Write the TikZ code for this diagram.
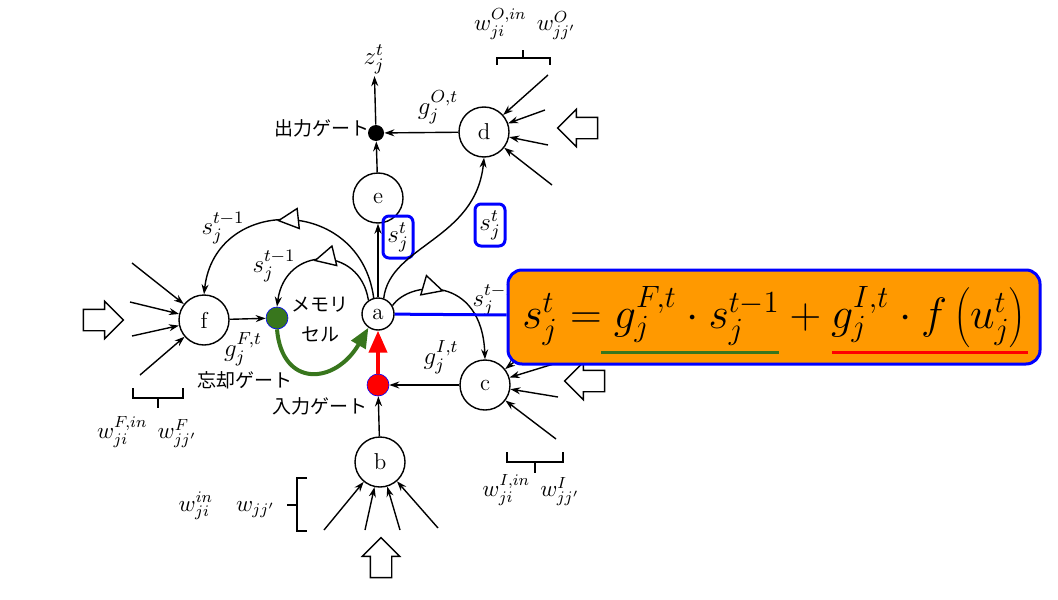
\RequirePackage{fix-cm}
\documentclass[tikz,border=0pt]{standalone}
\usepackage{fontspec}
\newfontfamily\jpfont{Noto Sans CJK JP}
\usepackage{tikz}
\usetikzlibrary{arrows.meta,positioning,shapes.arrows,decorations.markings}
\definecolor{gateGreen}{RGB}{56,118,29}
\definecolor{gateRed}{RGB}{255,0,0}
\definecolor{boxBlue}{RGB}{0,0,255}
\definecolor{eqOrange}{RGB}{255,153,0}
\tikzset{
  unit/.style={circle, draw, line width=0.7pt, fill=white, minimum size=25pt, inner sep=0pt, font=\fontsize{11.5}{13}\selectfont},
  cellunit/.style={unit, minimum size=16pt},
  gatedot/.style={circle, draw=boxBlue, line width=0.3pt, minimum size=11pt, inner sep=0pt},
  outdot/.style={circle, fill=black, minimum size=8pt, inner sep=0pt},
  jptext/.style={font=\jpfont\fontsize{9.5}{15}\selectfont, inner sep=1pt},
  lbl/.style={inner sep=1pt, font=\fontsize{12.5}{14}\selectfont},
  wlbl/.style={inner sep=1pt, font=\fontsize{11.5}{13}\selectfont},
  sbox/.style={draw=boxBlue, line width=1.5pt, rounded corners=3pt, inner sep=0.5pt, minimum width=15pt, minimum height=21pt, font=\fontsize{12.5}{14}\selectfont},
  eqbox/.style={draw=boxBlue, line width=1.5pt, fill=eqOrange, rounded corners=7pt, minimum width=266pt, minimum height=47pt, font=\fontsize{22}{26}\selectfont},
  bigarrow/.style={draw, line width=0.7pt, fill=white, single arrow, minimum height=20pt, single arrow head extend=4pt, inner xsep=0pt, inner ysep=5pt},
  flow/.style={-{Stealth[length=5pt,width=3.5pt]}, line width=0.7pt},
  loopflow/.style={flow, postaction={decorate}, decoration={markings, mark=at position #1 with {\arrow{Triangle[length=11pt,width=11pt,fill=white]}}}},
  greenflow/.style={-{Triangle[length=10pt,width=8pt]}, line width=2pt, draw=gateGreen},
  redflow/.style={-{Triangle[length=11pt,width=9pt]}, line width=2pt, draw=gateRed},
  brace/.style={line width=0.7pt}
}
\begin{document}
\begin{tikzpicture}[x=0.5pt, y=-0.5pt]
  \useasboundingbox (0,0) rectangle (1058,599);
  % units and gates
  \node[cellunit] (a) at (378,314) {a};
  \node[unit] (e) at (378,198) {e};
  \node[unit] (d) at (484,132) {d};
  \node[unit] (f) at (204,320) {f};
  \node[unit] (c) at (485,385) {c};
  \node[unit] (b) at (380,462) {b};
  \node[outdot] (og) at (376,133) {};
  \node[gatedot, fill=gateGreen] (fg) at (277,318) {};
  \node[gatedot, fill=gateRed] (ig) at (378,385) {};
  % labels
  \node[lbl] (zt) at (374,59) {$z_j^t$};
  \node[jptext] (outgate) at (322,128) {出力ゲート};
  \node[lbl] (go) at (438,107) {$g_j^{O,t}$};
  \node[lbl] (sprevF) at (223,228) {$s_j^{t-1}$};
  \node[lbl] (sprevC) at (274,266) {$s_j^{t-1}$};
  \node[lbl] (sprevI) at (494,300) {$s_j^{t-1}$};
  \node[jptext, align=center] (cell) at (320,320) {メモリ\\セル};
  \node[lbl] (gf) at (243,349) {$g_j^{F,t}$};
  \node[jptext] (forgate) at (245,380) {忘却ゲート};
  \node[lbl] (gi) at (441,357) {$g_j^{I,t}$};
  \node[jptext] (ingate) at (320,406) {入力ゲート};
  \node[sbox] (se) at (398,237) {$s_j^t$};
  \node[sbox] (sd) at (490,225) {$s_j^t$};
  \node[wlbl] (wF) at (147,432) {$w_{ji}^{F,in}\;\, w_{jj'}^{F}$};
  \node[wlbl] (wO) at (525,24) {$w_{ji}^{O,in}\;\, w_{jj'}^{O}$};
  \node[wlbl] (wI) at (531,490) {$w_{ji}^{I,in}\;\, w_{jj'}^{I}$};
  \node[wlbl] (wB) at (227,506) {$w_{ji}^{in}\quad w_{jj'}$};
  % big input arrows
  \node[bigarrow] (inF) at (98,320) {};
  \node[bigarrow, rotate=180] (inO) at (583,128) {};
  \node[bigarrow, rotate=180] (inI) at (590,381) {};
  \node[bigarrow, rotate=90] (inB) at (381,563) {};
  % connections
  \draw[flow] (og) -- (zt);
  \draw[flow] (d) -- (og);
  \draw[flow] (e) -- (og);
  \draw[flow] (a) -- (e);
  \draw[flow] (f) -- (fg);
  \draw[flow] (c) -- (ig);
  \draw[flow] (b) -- (ig);
  \draw[loopflow=0.55] (a.105) .. controls (360,195) and (215,195) .. (f.north);
  \draw[loopflow=0.55] (a.125) .. controls (360,245) and (285,245) .. (fg.north);
  \draw[flow] (a.70) .. controls (390,245) and (476,240) .. (d.south);
  \draw[loopflow=0.4] (a.30) .. controls (410,280) and (482,275) .. (c.north);
  \draw[greenflow] (fg.south) .. controls (282,388) and (335,385) .. (a.235);
  \draw[redflow] (ig) -- (a);
  % weighted inputs
  \draw[flow] (132,263) -- (f);
  \draw[flow] (130,302) -- (f);
  \draw[flow] (132,336) -- (f);
  \draw[flow] (140,375) -- (f);
  \draw[flow] (548,75) -- (d);
  \draw[flow] (545,110) -- (d);
  \draw[flow] (548,145) -- (d);
  \draw[flow] (552,185) -- (d);
  \draw[flow] (552,332) -- (c);
  \draw[flow] (560,362) -- (c);
  \draw[flow] (558,397) -- (c);
  \draw[flow] (556,439) -- (c);
  \draw[flow] (324,530) -- (b);
  \draw[flow] (365,530) -- (b);
  \draw[flow] (400,530) -- (b);
  \draw[flow] (438,528) -- (b);
  % braces
  \draw[brace] (133,388) -- (133,398) -- (183,398) -- (183,388) (158,398) -- (158,408);
  \draw[brace] (497,65) -- (497,58) -- (550,58) -- (550,65) (523,58) -- (523,50);
  \draw[brace] (507,452) -- (507,462) -- (563,462) -- (563,452) (535,462) -- (535,473);
  \draw[brace] (307,478) -- (297,478) -- (297,531) -- (307,531) (297,505) -- (287,505);
  % update equation
  \node[eqbox] (eq) at (774,317) {$s_j^t = g_j^{F,t}\cdot s_j^{t-1} + g_j^{I,t}\cdot f\left(u_j^t\right)$};
  \draw[boxBlue, line width=1.5pt] (a) -- (eq);
  \draw[gateGreen, line width=1.5pt] (601,352) -- (779,352);
  \draw[gateRed, line width=1.5pt] (832,352) -- (1028,352);
\end{tikzpicture}
\end{document}
